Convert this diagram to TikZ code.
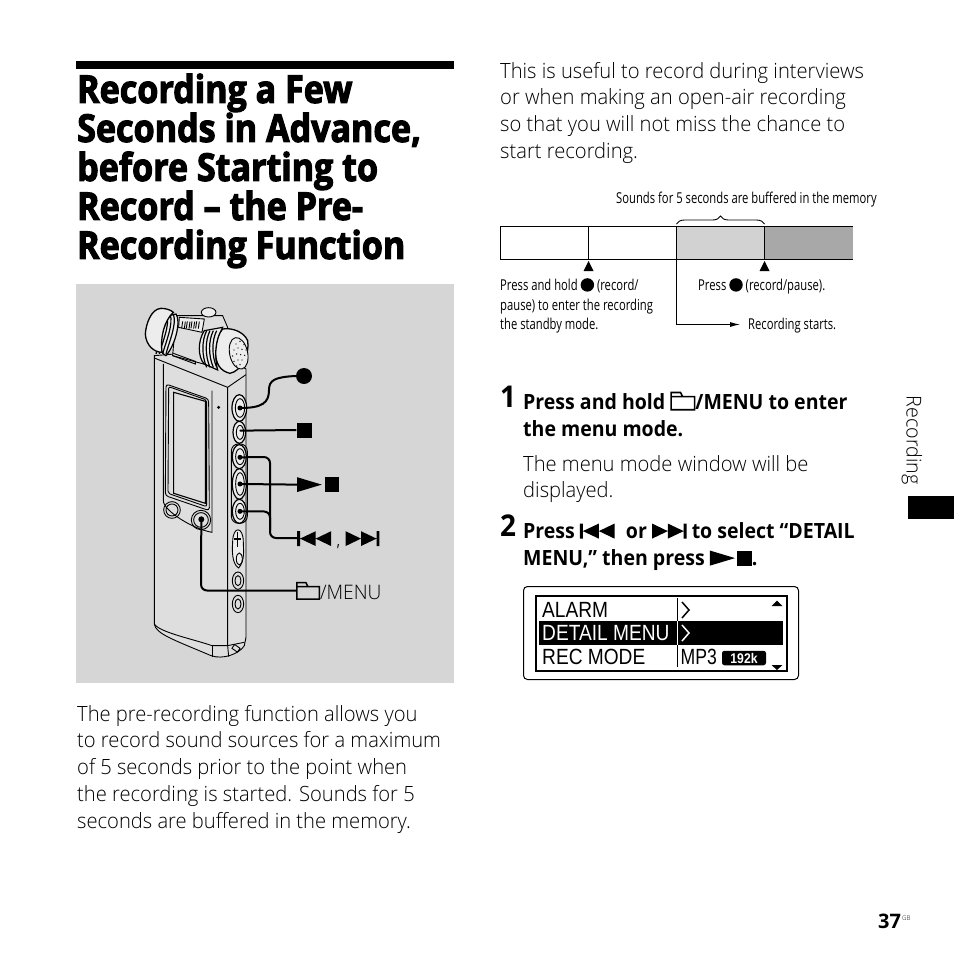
\documentclass[tikz,border=0pt]{standalone}
\usepackage{fontspec}
\usetikzlibrary{decorations.pathreplacing,arrows.meta}
\setmainfont[FakeStretch=0.96,Ligatures=TeX]{Open Sans Light}
\newfontfamily\titlefont[FakeStretch=0.885,BoldFeatures={FakeBold=2.8}]{Open Sans}
\newfontfamily\smallfont[FakeStretch=0.75]{Open Sans}
\newfontfamily\lcdfont[FakeStretch=0.87]{Liberation Sans}
\newfontfamily\mpfont[FakeStretch=0.8]{Liberation Sans}
\newfontfamily\stepbold[FakeStretch=0.93,Ligatures=TeX]{Open Sans Bold}
\newfontfamily\pagefont{Open Sans Bold}
\definecolor{panelGray}{HTML}{D6D6D6}
\definecolor{bodyGray}{HTML}{DEDEDE}
\definecolor{micGray}{HTML}{EDEDED}
\definecolor{bufferGray}{HTML}{D2D2D2}
\definecolor{recGray}{HTML}{A8A8A8}
%% inline key symbols, sized by the current font
\newcommand{\keydot}{\tikz[baseline=0pt]\fill (0em,.36em) circle (.42em);}
\newcommand{\keystop}{\tikz[baseline=0pt]\fill (0em,0em) rectangle (.7em,.72em);}
\newcommand{\keyplay}{\tikz[baseline=0pt]\fill (0em,0em) -- (0em,.72em) -- (1.2em,.36em) -- cycle;}
\newcommand{\keyprev}{\tikz[baseline=0pt]\fill (0em,0em) rectangle (.14em,.72em) (.14em,.36em) -- (.9em,.72em) -- (.9em,0em) -- cycle (.9em,.36em) -- (1.65em,.72em) -- (1.65em,0em) -- cycle;}
\newcommand{\keynext}{\tikz[baseline=0pt]\fill (1.51em,0em) rectangle (1.65em,.72em) (1.51em,.36em) -- (.75em,.72em) -- (.75em,0em) -- cycle (.75em,.36em) -- (0em,.72em) -- (0em,0em) -- cycle;}
\newcommand{\keyfolder}{\tikz[baseline=0pt]\draw[line width=.075em] (0em,0em) rectangle (1.12em,.62em) (0em,.62em) -- (0em,.82em) -- (.45em,.82em) -- (.55em,.62em);}

\begin{document}
\begin{tikzpicture}
[x=1pt,y=-1pt,
  bodyText/.style={anchor=north west,inner sep=0pt,align=left,font=\fontsize{21}{26.7}\selectfont},
  boldText/.style={bodyText,font=\fontsize{21}{27}\selectfont\stepbold},
  titleText/.style={anchor=north west,inner sep=0pt,align=left,font=\fontsize{38.5}{39}\selectfont\titlefont\bfseries},
  smallText/.style={anchor=north west,inner sep=0pt,align=left,font=\fontsize{15}{19.6}\selectfont\smallfont},
  stepNum/.style={anchor=north west,inner sep=0pt,font=\fontsize{30}{30}\selectfont\stepbold},
  lcdText/.style={anchor=west,inner sep=0pt,font=\fontsize{22}{22}\selectfont\lcdfont},
  keyLine/.style={line width=2pt,rounded corners=6pt},
  thinLine/.style={line width=.9pt},
  devLine/.style={line width=.9pt},
  btnDot/.style={shape=circle,fill=black,inner sep=0pt,minimum size=5pt}]
\useasboundingbox (0,0) rectangle (954,954);
\fill[white] (0,0) rectangle (954,954);

%% heading and left text
\fill (76,61) rectangle (454,69);
\node (titleBlock) at (77,73.5) [titleText] {Recording a Few\\Seconds in Advance,\\before Starting to\\Record – the Pre-\\Recording Function};
\fill[panelGray] (76,284) rectangle (454,683);
\node (introLeft) at (77,705) [bodyText] {The pre-recording function allows you\\to record sound sources for a maximum\\of 5 seconds prior to the point when\\the recording is started. Sounds for 5\\seconds are buffered in the memory.};

%% recorder, written in 3x crop units
\begin{scope}[shift={(76,284)},x=.3333pt,y=-.3333pt,devLine]
  %% case
  \draw[fill=bodyGray] (235,215) -- (235,1020) .. controls (238,1050) and (300,1070) .. (405,1115)
    .. controls (440,1128) and (490,1110) .. (505,1085) -- (510,1060) -- (510,255) -- (420,200) -- cycle;
  \draw (235,222) -- (455,310) -- (510,272);
  \draw (262,240) -- (262,650) .. controls (262,680) and (350,735) .. (408,745) -- (408,320);
  \draw (455,310) -- (455,1085) -- (458,1118);
  \draw (235,1020) .. controls (250,1045) and (350,1065) .. (408,1085) -- (455,1085) -- (505,1075);
  \draw (408,1085) -- (408,1120);
  \draw[rotate around={-35:(480,1093)}] (470,1086) rectangle (490,1100);
  %% display
  \draw[rounded corners=3pt] (270,300) -- (398,345) -- (400,680) -- (268,635) -- cycle;
  \draw[rounded corners=2pt] (278,308) -- (392,348) -- (392,668) -- (276,628) -- cycle;
  \draw[line width=1.1pt] (293,325) -- (388,352) -- (388,658) -- (293,628) -- cycle;
  \fill (428,370) circle (5);
  \draw (288,678) circle (25) (288,678) circle (18);
  \draw (375,708) circle (29) (375,708) circle (22);
  %% keys on the side
  \draw[rounded corners=7pt] (466,480) rectangle (514,718);
  \foreach \keyy/\keyrx/\keyry in {372/22/40, 445/19/33, 518/21/36, 600/21/46, 682/21/36}
  {
    \draw[fill=micGray,line width=1.2pt] (490,\keyy) ellipse ({\keyrx} and {\keyry});
    \draw (492,\keyy) ellipse ({\keyrx-8} and {\keyry-12});
  }
  \draw[fill=micGray] (470,775) .. controls (470,725) and (502,725) .. (502,775) .. controls (502,795) and (508,830) .. (488,852) .. controls (468,840) and (468,800) .. (470,775) -- cycle;
  \draw (490,825) ellipse (9 and 18);
  \draw[line width=1.4pt] (484,745) -- (484,790) (474,765) -- (494,765);
  \foreach \jacky in {890,960}
  {
    \draw (486,\jacky) ellipse (17 and 26);
    \draw (486,\jacky) ellipse (9 and 15);
  }
  %% microphones
  \draw[fill=bodyGray] (300,95) -- (440,95) -- (455,130) -- (420,250) -- (290,215) -- cycle;
  \draw[fill=micGray,line width=1.2pt] (258,100) -- (300,90) .. controls (315,110) and (300,180) .. (270,215) .. controls (245,205) and (250,150) .. (258,100) -- cycle;
  \foreach \ribx in {262,272,282,292}
  {
    \draw[line width=1.2pt] (\ribx,90) .. controls (\ribx+12,120) and (\ribx-15,180) .. (\ribx-22,210);
  }
  \draw[fill=micGray,line width=1.3pt] (255,73) .. controls (225,75) and (210,120) .. (208,150) .. controls (210,185) and (235,205) .. (258,205)
    .. controls (252,160) and (265,110) .. (292,85) .. controls (285,78) and (270,73) .. (255,73) -- cycle;
  \draw[fill=micGray] (310,100) -- (385,105) -- (378,145) -- (308,130) -- cycle;
  \foreach \slotx in {320,334,348,362}
  {
    \draw (\slotx,112) -- (\slotx-3,133);
    \draw (\slotx+8,113) -- (\slotx+5,134);
  }
  \draw[fill=micGray] (398,85) ellipse (22 and 14);
  \draw (290,215) -- (358,240) -- (358,232) -- (292,208);
  \draw[fill=micGray,line width=1.2pt] (385,140) -- (440,130) .. controls (420,170) and (415,225) .. (425,258) -- (385,240) .. controls (365,220) and (365,170) .. (385,140) -- cycle;
  \foreach \ribx in {392,402,412,422}
  {
    \draw[line width=1.2pt] (\ribx,140) .. controls (\ribx-15,170) and (\ribx-15,215) .. (\ribx,250);
  }
  \draw[fill=micGray,line width=1.3pt] (440,135) .. controls (470,130) and (505,145) .. (515,170) .. controls (522,210) and (495,262) .. (462,268)
    .. controls (435,262) and (415,240) .. (420,195) .. controls (422,170) and (430,145) .. (440,135) -- cycle;
  \draw[rotate around={12:(488,208)},fill=micGray] (488,208) ellipse (27 and 48);
  \foreach \holex/\holey in {480/180,492/172,504/182,474/198,486/192,498/196,510/198,470/216,482/210,494/212,506/214,474/232,486/228,498/228,482/246,492/242}
  {
    \fill (\holex,\holey) circle (2.2);
  }
  %% contact points of the key lines
  \node (btnRec) at (492,372) [btnDot] {};
  \node (btnStop) at (492,440) [btnDot,minimum size=1pt] {};
  \node (btnPrev) at (492,520) [btnDot] {};
  \node (btnPlay) at (492,600) [btnDot] {};
  \node (btnNext) at (492,682) [btnDot] {};
  \node (btnMenu) at (376,706) [btnDot,minimum size=6pt] {};
\end{scope}

%% key symbols and their lines
\node (symRec) at (304,376) [shape=circle,fill=black,inner sep=0pt,minimum size=16pt] {};
\node (symStop) at (304,430) [fill=black,inner sep=0pt,minimum size=15pt] {};
\node (symPlay) at (297,492) [anchor=base west,inner sep=0pt,font=\fontsize{20.5}{20.5}\selectfont] {\keyplay\hspace{.16em}\keystop};
\node (symSkip) at (297,546) [anchor=base west,inner sep=0pt,font=\fontsize{20.5}{20.5}\selectfont] {\keyprev\hspace{.28em}{\fontsize{17}{17}\selectfont\smallfont ,}\hspace{.28em}\keynext};
\node (symMenu) at (296,599) [anchor=base west,inner sep=0pt,font=\fontsize{20}{20}\selectfont] {\keyfolder/MENU};
\draw[line width=2pt] (btnRec.center) .. controls (262,408) and (269,403) .. (269,390) .. controls (269,380) and (275,377) .. (symRec.west);
\draw[keyLine] (btnStop.center) -- (symStop.west);
\draw[keyLine] (btnPlay.center) -- (symPlay.west);
\draw[keyLine] (btnPrev.center) -- (270,457) -- (270,538) -- (symSkip.west |- 0,538);
\draw[keyLine] (btnNext.center) -- (270,511.5) -- (270,530);
\draw[keyLine] (btnMenu.center) -- (201,590.5) -- (symMenu.west |- 0,590.5);

%% right text
\node (introRight) at (500,62) [bodyText] {This is useful to record during interviews\\or when making an open-air recording\\so that you will not miss the chance to\\start recording.};

%% timeline
\fill[bufferGray] (676.5,226.5) rectangle (764.5,259);
\fill[recGray] (764.5,226.5) rectangle (853,259);
\draw[thinLine] (853,226.5) -- (500.5,226.5) -- (500.5,259) -- (853,259);
\foreach \xdiv in {588.5,676.5,764.5}
{
  \draw[thinLine] (\xdiv,226.5) -- (\xdiv,259);
}
\foreach \xdiv in {588.5,764.5}
{
  \fill (\xdiv,261) -- (\xdiv+5,271) -- (\xdiv-5,271) -- cycle;
}
\coordinate (bufLeft) at (676.5,224);
\coordinate (bufRight) at (764.5,224);
\draw[thinLine,decorate,decoration={brace,amplitude=8pt}] (bufLeft) -- (bufRight);
\node (bufText) at (616,192) [smallText] {Sounds for 5 seconds are buffered in the memory};
\node (holdText) at (500,278) [smallText] {Press and hold {\fontsize{16}{16}\selectfont\keydot} (record/\\pause) to enter the recording\\the standby mode.};
\node (pressText) at (698,278) [smallText] {Press {\fontsize{16}{16}\selectfont\keydot} (record/pause).};
\node (startText) at (748,318) [smallText] {Recording starts.};
\coordinate (startFoot) at (676.5,259);
\draw[thinLine,-{Latex[length=10pt,width=5pt]},shorten >=8pt] (startFoot) -- (676.5,324.5) -- (startText.west |- 0,324.5);

%% steps
\node (stepOne) at (500,386) [stepNum] {1};
\node (stepOneText) at (523,391.5) [boldText] {Press and hold \keyfolder/MENU to enter\\the menu mode.};
\node (stepOneNote) at (523,455) [bodyText] {The menu mode window will be\\displayed.};
\node (stepTwo) at (500,515) [stepNum] {2};
\node (stepTwoText) at (523,522.5) [boldText] {Press \keyprev\hspace{.3em} or \keynext{} to select ``DETAIL\\MENU,'' then press \keyplay\hspace{.1em}\keystop.};

%% menu window
\draw[line width=1pt,rounded corners=4pt] (523.5,586.5) rectangle (798.5,679.5);
\draw[line width=1.1pt] (536,596) rectangle (787,671);
\fill (538.5,621) rectangle (783,645);
\draw[line width=1pt] (677.5,598) -- (677.5,621);
\draw[line width=1pt] (677.5,645) -- (677.5,667);
\draw[white,line width=1pt] (677.5,621) -- (677.5,645);
\node (lcdAlarm) at (542,610) [lcdText] {ALARM};
\node (lcdDetail) at (542,633) [lcdText,text=white] {DETAIL MENU};
\node (lcdRec) at (542,657) [lcdText] {REC MODE};
\draw[line width=1.5pt] (682,602) -- (689,610) -- (682,618);
\draw[white,line width=1.5pt] (682,625) -- (689,633) -- (682,641);
\node (lcdMp) at (680.5,657) [lcdText,font=\fontsize{22}{22}\selectfont\mpfont] {MP3};
\node (lcdRate) at (744,658) [fill=black,text=white,rounded corners=2.5pt,inner sep=0pt,minimum width=44pt,minimum height=14.5pt,font=\fontsize{14}{14}\selectfont\bfseries\lcdfont] {192k};
\fill (771.5,606) -- (777,600.5) -- (782.5,606) -- cycle;
\fill (771.5,665) -- (777,670) -- (782.5,665) -- cycle;

%% page furniture
\node (sideText) at (912,440) [rotate=-90,inner sep=0pt,font=\fontsize{20.5}{20.5}\selectfont] {Recording};
\fill (908,496) rectangle (954,519);
\node (pageNum) at (878,928) [anchor=base west,inner sep=0pt,font=\fontsize{20}{20}\selectfont\pagefont] {37};
\node (pageGb) at (902,920) [anchor=base west,inner sep=0pt,font=\fontsize{6.5}{6.5}\selectfont] {GB};
\end{tikzpicture}
\end{document}
